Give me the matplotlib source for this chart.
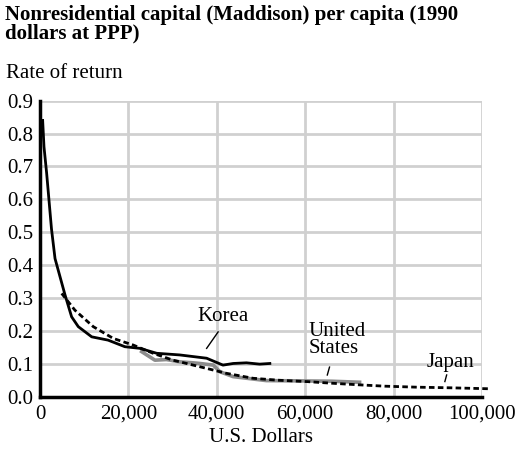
import matplotlib
matplotlib.use("Agg")
import matplotlib.pyplot as plt

# Rate of return vs. nonresidential capital per capita (1990 dollars at PPP)
korea_x = [600, 900, 1500, 2600, 3400, 5650, 7150, 8660, 11700, 15400, 19200,
           22600, 26400, 31600, 37700, 41400, 43700, 46700, 49700, 52000]
korea_y = [0.84, 0.76, 0.68, 0.51, 0.42, 0.31, 0.243, 0.213, 0.182, 0.172, 0.152,
           0.147, 0.132, 0.127, 0.117, 0.096, 0.101, 0.103, 0.099, 0.101]

us_x = [23000, 26000, 28600, 31600, 34600, 36200, 39200, 40700, 43700, 51200,
        59500, 66000, 72300]
us_y = [0.137, 0.111, 0.113, 0.106, 0.103, 0.101, 0.096, 0.076, 0.061, 0.049,
        0.048, 0.047, 0.044]

japan_x = [4900, 7900, 12050, 16600, 21100, 25600, 30100, 36200, 42200, 48200,
           54000, 60300, 66000, 72300, 78000, 85100, 93000, 102000]
japan_y = [0.314, 0.263, 0.213, 0.177, 0.157, 0.132, 0.111, 0.091, 0.071, 0.056,
           0.050, 0.046, 0.041, 0.036, 0.032, 0.029, 0.027, 0.024]

x_ticks = [0, 20000, 40000, 60000, 80000, 100000]
y_ticks = [0.0, 0.1, 0.2, 0.3, 0.4, 0.5, 0.6, 0.7, 0.8, 0.9]

plt.rcParams["font.family"] = ["Liberation Serif", "DejaVu Serif"]
FS = 15

fig = plt.figure(figsize=(5.16, 4.5), dpi=100)
ax = fig.add_axes([40 / 516, 1 - 396.7 / 450, 442 / 516, 296 / 450])

ax.set_xlim(0, 100000)
ax.set_ylim(0, 0.9)
ax.set_xticks(x_ticks)
ax.set_yticks(y_ticks)
ax.set_xticklabels([f"{v:,}" for v in x_ticks], fontsize=FS)
ax.set_yticklabels([f"{v:.1f}" for v in y_ticks], fontsize=FS)
ax.tick_params(axis="y", length=0, pad=5)
ax.tick_params(axis="x", length=0, pad=6)
ax.grid(True, color="#d0d0d0", linewidth=2)
ax.set_axisbelow(True)
for s in ("top", "right"):
    ax.spines[s].set_visible(False)
for s in ("left", "bottom"):
    ax.spines[s].set_linewidth(2.5)
    ax.spines[s].set_color("black")

ax.plot(us_x, us_y, color="#8c8c8c", linewidth=2.6, zorder=3)
ax.plot(japan_x, japan_y, color="black", linewidth=2.0, linestyle=(0, (2, 1.2)),
        zorder=4, clip_on=False)
ax.plot(korea_x, korea_y, color="black", linewidth=2.0, zorder=5)

# Series labels with leader lines
ax.text(41500, 0.245, "Korea", fontsize=FS, ha="center", va="center")
ax.plot([40300, 37700], [0.197, 0.147], color="black", linewidth=1)
ax.text(60700, 0.172, "United\nStates", fontsize=FS, ha="left", va="center",
        linespacing=0.9)
ax.plot([65500, 65000], [0.090, 0.066], color="black", linewidth=1)
ax.text(87500, 0.105, "Japan", fontsize=FS, ha="left", va="center")
ax.plot([92000, 91600], [0.066, 0.046], color="black", linewidth=1)

ax.set_xlabel("U.S. Dollars", fontsize=FS, labelpad=3)

fig.text(5 / 516, 1 - 5 / 450,
         "Nonresidential capital (Maddison) per capita (1990\ndollars at PPP)",
         fontsize=FS, fontweight="bold", ha="left", va="top", linespacing=0.92)
fig.text(6 / 516, 1 - 73 / 450, "Rate of return", fontsize=FS, ha="left",
         va="center")

fig.savefig("out.png", dpi=100)
